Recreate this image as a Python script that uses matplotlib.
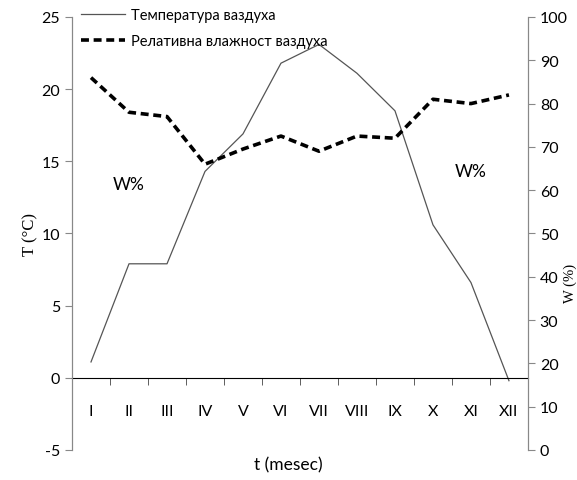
import matplotlib
matplotlib.use("Agg")
import matplotlib.pyplot as plt
import numpy as np

months = ["I", "II", "III", "IV", "V", "VI", "VII", "VIII", "IX", "X", "XI", "XII"]
temperature = [1.1, 7.9, 7.9, 14.3, 16.9, 21.8, 23.1, 21.1, 18.5, 10.6, 6.6, -0.2]
humidity = [86, 78, 77, 66, 69.5, 72.5, 69, 72.5, 72, 81, 80, 82]

plt.rcParams['font.family'] = ['Lato', 'DejaVu Sans']
plt.rcParams['axes.unicode_minus'] = False

fig = plt.figure(figsize=(5.77, 4.81), dpi=100)
ax = fig.add_axes([0.1248, 0.0624, 0.915 - 0.1248, 0.9626 - 0.0624])
ax2 = ax.twinx()

x = np.arange(len(months))
l1, = ax.plot(x, temperature, color="#555555", lw=0.9, label="Температура ваздуха")
l2, = ax2.plot(x, humidity, color="black", lw=2.6, ls=(0, (2.2, 1.3)), label="Релативна влажност ваздуха")

ax.set_xlim(-0.5, len(months) - 0.5)
ax.set_ylim(-5, 25)
ax.set_yticks([-5, 0, 5, 10, 15, 20, 25])
ax2.set_ylim(0, 100)
ax2.set_yticks(range(0, 101, 10))

for a in (ax, ax2):
    a.spines['top'].set_visible(False)
    a.spines['left'].set_color("#888888")
    a.spines['right'].set_color("#888888")
ax.spines['bottom'].set_position(('data', 0))
ax2.spines['bottom'].set_visible(False)
ax.spines['bottom'].set_color('black')

ax.set_xticks(x)
ax.set_xticklabels(months)
ax.set_xticks(np.arange(0.5, len(months) - 0.5, 1), minor=True)
ax.tick_params(axis='x', which='major', length=0, pad=19, labelsize=11.5)
ax.tick_params(axis='x', which='minor', length=5, direction='out', color='#444444')
ax.tick_params(axis='y', length=5, color='#888888', labelsize=11.5)
ax2.tick_params(axis='y', length=5, color='#888888', labelsize=11.5)

ax.set_ylabel("T (°C)", family=['Liberation Serif'], fontsize=12, labelpad=2)
fig.text(0.5, 0.033, "t (mesec)", ha='center', va='center', fontsize=12.5)
fig.text(0.989, 0.41, "W (%)", rotation=90, ha='center', va='center',
         family=['Liberation Serif'], fontsize=10.5)

ax.text(1.0, 13.4, "W%", fontsize=12.5, ha='center', va='center')
ax.text(10.0, 14.3, "W%", fontsize=12.5, ha='center', va='center')

leg = ax.legend(handles=[l1, l2], loc='upper left', bbox_to_anchor=(0.007, 1.035),
                frameon=False, fontsize=10.5, handlelength=3.0, handletextpad=0.4,
                labelspacing=0.85, borderaxespad=0)

fig.savefig("out.png", dpi=100)
